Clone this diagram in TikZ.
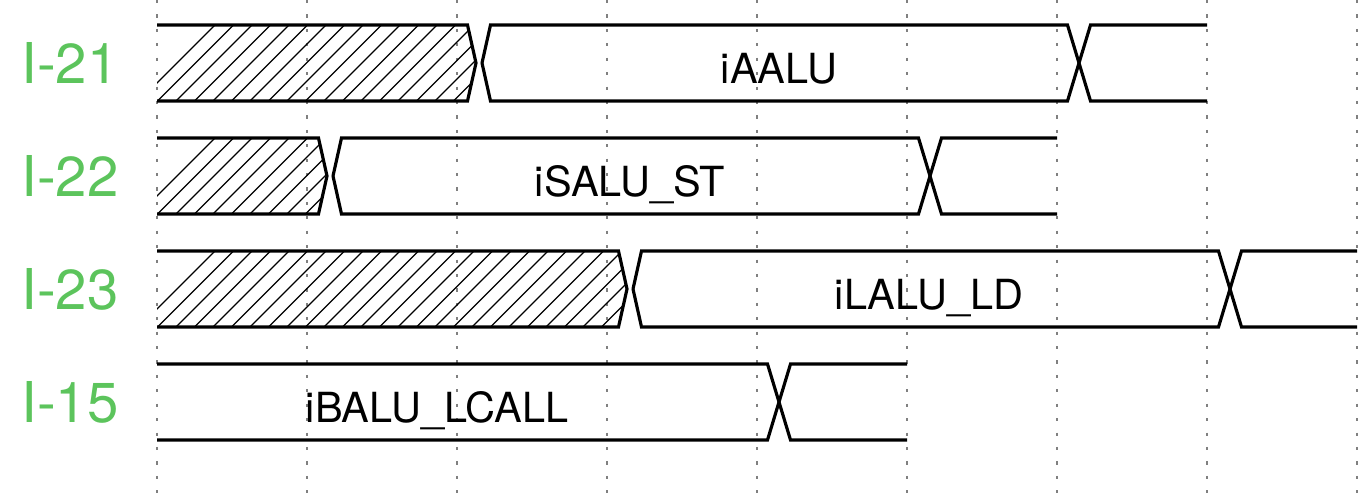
\documentclass[tikz,border=0pt]{standalone}
\usepackage{fontspec}
\setmainfont{TeX Gyre Heros}
\usepackage{xcolor}
\usepackage{tikz}
\usetikzlibrary{positioning}

\definecolor{lanegreen}{RGB}{92,196,92}

\tikzset{
  wave/.style={black, line width=0.9pt, line join=miter},
  hatch/.style={black, line width=0.35pt},
  tick/.style={gray, line width=0.4pt, dash pattern=on 0.9pt off 3.2pt},
  lane/.style={text=lanegreen, font=\fontsize{16}{18}\selectfont},
  datalabel/.style={anchor=base, font=\fontsize{11.8}{14}\selectfont},
}

\begin{document}
\begin{tikzpicture}[x=0.01cm, y=-0.01cm]
\useasboundingbox (0,0) rectangle (1370,500);

% time grid
\foreach \t in {157,307,...,1357}
  \draw[tick] (\t,0) -- (\t,500);

% lanes that start unknown (hatched)
\foreach \m/\h/\e/\f in {63/479/1079/1207, 176/330/930/1057, 289/630/1230/1357} {
  \begin{scope}
    \clip (157,\m-38) -- (\h-11.5,\m-38) -- (\h-3,\m) -- (\h-11.5,\m+38) -- (157,\m+38) -- cycle;
    \foreach \k in {0,...,32}
      \draw[hatch] (139+18.5*\k,\m+38) -- ++(76,-76);
  \end{scope}
  \draw[wave] (157,\m-38) -- (\h-11.5,\m-38) -- (\h-3,\m) -- (\h-11.5,\m+38) -- (157,\m+38);
  % data, then change
  \draw[wave] (\h+3,\m) -- (\h+11.5,\m-38) -- (\e-11.5,\m-38) -- (\e+11.5,\m+38) -- (\f,\m+38);
  \draw[wave] (\h+3,\m) -- (\h+11.5,\m+38) -- (\e-11.5,\m+38) -- (\e+11.5,\m-38) -- (\f,\m-38);
}

% last lane
\draw[wave] (157,364) -- (767.5,364) -- (790.5,440) -- (907,440);
\draw[wave] (157,440) -- (767.5,440) -- (790.5,364) -- (907,364);

% lane names
\node[lane] (i21) at (70,63) {I-21};
\node[lane] (i22) at (70,176) {I-22};
\node[lane] (i23) at (70,289) {I-23};
\node[lane] (i15) at (70,402) {I-15};

% data labels
\node[datalabel] (aalu) at (779,83) {iAALU};
\node[datalabel] (salu) at (630,196) {iSALU\_ST};
\node[datalabel] (lalu) at (929,309) {iLALU\_LD};
\node[datalabel] (balu) at (437,422) {iBALU\_LCALL};
\end{tikzpicture}
\end{document}
